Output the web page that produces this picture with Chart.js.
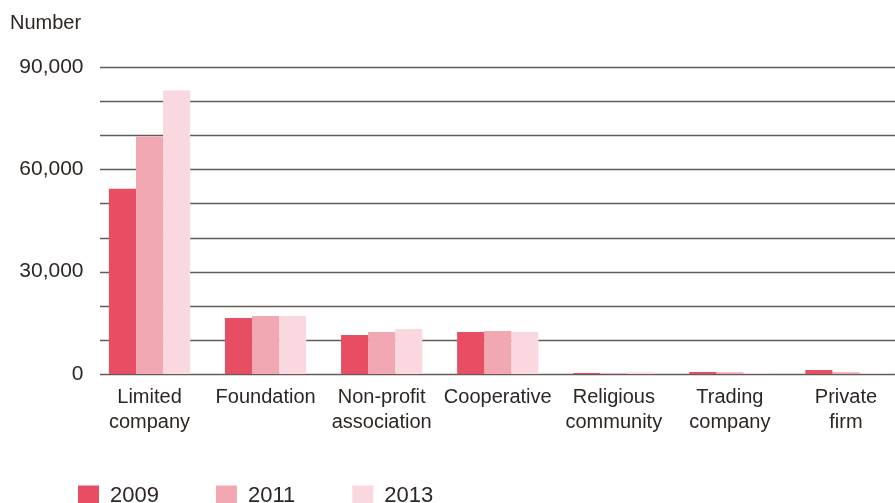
<!DOCTYPE html>
<html>
<head>
<meta charset="utf-8">
<script src="https://cdn.jsdelivr.net/npm/chart.js@4/dist/chart.umd.min.js"></script>
<style>
  html, body { margin: 0; padding: 0; background: #fff; overflow: hidden; }
  #wrap { width: 904px; height: 525px; position: relative; }
</style>
</head>
<body>
<div id="wrap"><canvas id="chart1"></canvas></div>
<script>
var categories = [['Limited', 'company'], 'Foundation', ['Non-profit', 'association'], 'Cooperative', ['Religious', 'community'], ['Trading', 'company'], ['Private', 'firm']];
var years = ['2009', '2011', '2013'];
var values2009 = [54300, 16400, 11400, 12300, 300, 600, 1200];
var values2011 = [69600, 17000, 12300, 12600, 200, 500, 500];
var values2013 = [83100, 17000, 13200, 12300, 500, 150, 150];
var yTicks = [0, 30000, 60000, 90000];

var textColor = '#2e2623';

// grid lines start a bit right of the plot edge, behind the bars
var gridPlugin = {
  id: 'gridLines',
  beforeDatasetsDraw: function(chart) {
    var ctx = chart.ctx;
    var y = chart.scales.y;
    ctx.save();
    ctx.strokeStyle = '#625b57';
    ctx.lineWidth = 1.5;
    y.ticks.forEach(function(t) {
      var py = Math.round(y.getPixelForValue(t.value)) + 0.5;
      ctx.beginPath();
      ctx.moveTo(100, py);
      ctx.lineTo(chart.chartArea.right, py);
      ctx.stroke();
    });
    ctx.restore();
  }
};

// nudge the legend: it sits further left and higher than the default box
var legendShift = {
  id: 'legendShift',
  afterLayout: function(chart) {
    chart.legend.left += 11;
    chart.legend.top -= 8;
  }
};

var ctx = document.getElementById('chart1').getContext('2d');
var myChart = new Chart(ctx, {
  type: 'bar',
  data: {
    labels: categories,
    datasets: [{
      label: years[0],
      data: values2009,
      backgroundColor: '#e74e64'
    }, {
      label: years[1],
      data: values2011,
      backgroundColor: '#f2a8b2'
    }, {
      label: years[2],
      data: values2013,
      backgroundColor: '#f9d9df'
    }]
  },
  options: {
    maintainAspectRatio: false,
    animation: false,
    layout: {
      padding: { left: 10, top: 11, right: 0, bottom: 0 }
    },
    datasets: {
      bar: {
        categoryPercentage: 0.70,
        barPercentage: 1.0,
        borderWidth: 0
      }
    },
    scales: {
      x: {
        grid: { display: false, drawTicks: false },
        border: { display: false },
        ticks: {
          color: textColor,
          font: { family: 'Liberation Sans', size: 20, lineHeight: 1.25 },
          padding: 11,
          maxRotation: 0,
          autoSkip: false
        },
        afterFit: function(scale) { scale.height = 62; }
      },
      y: {
        min: 0,
        max: 90000,
        grid: { display: false, drawTicks: false },
        border: { display: false },
        ticks: {
          stepSize: 10000,
          color: textColor,
          padding: 8,
          font: { family: 'Liberation Sans', size: 21 },
          callback: function(v) {
            return yTicks.indexOf(v) >= 0 ? v.toLocaleString('en-US') : '';
          }
        },
        afterFit: function(scale) { scale.width = 81.5; }
      }
    },
    plugins: {
      title: {
        display: true,
        text: 'Number',
        align: 'start',
        color: textColor,
        font: { family: 'Liberation Sans', size: 20, weight: 'normal' },
        padding: { top: 0, bottom: 32 }
      },
      legend: {
        position: 'bottom',
        align: 'start',
        labels: {
          color: textColor,
          font: { family: 'Liberation Sans', size: 22 },
          boxWidth: 21,
          boxHeight: 21,
          padding: 57
        }
      },
      tooltip: { enabled: false }
    }
  },
  plugins: [gridPlugin, legendShift]
});
</script>
</body>
</html>
